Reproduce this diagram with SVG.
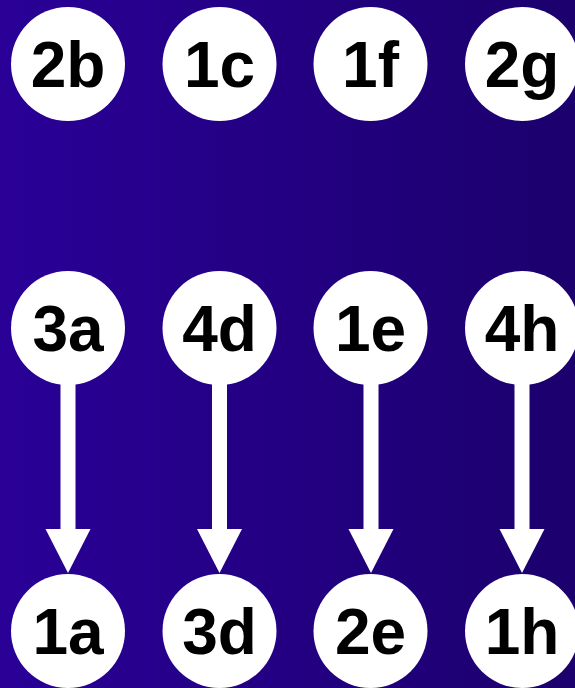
<svg xmlns="http://www.w3.org/2000/svg" width="575" height="688" viewBox="0 0 575 688">
  <defs>
    <linearGradient id="bg" x1="0" y1="0" x2="1" y2="0">
      <stop offset="0" stop-color="#2a0097"/>
      <stop offset="1" stop-color="#1c006d"/>
    </linearGradient>
    <marker id="ah" markerUnits="userSpaceOnUse" markerWidth="46" markerHeight="46" refX="0" refY="22.5" orient="auto" viewBox="0 0 46 46">
      <path d="M0,0 L44,22.5 L0,45 Z" fill="#ffffff"/>
    </marker>
    <style>
      .n circle { fill: #ffffff; }
      .n text { font-family: "Liberation Sans", Arial, sans-serif; font-weight: bold; font-size: 64px; fill: #000000; text-anchor: middle; }
      .c line { stroke: #ffffff; stroke-width: 15; marker-end: url(#ah); }
    </style>
  </defs>
  <rect x="0" y="0" width="575" height="688" fill="url(#bg)"/>
  <g id="connectors" class="c">
    <line x1="68" y1="384" x2="68" y2="529"/>
    <line x1="219.5" y1="384" x2="219.5" y2="529"/>
    <line x1="371" y1="384" x2="371" y2="529"/>
    <line x1="522" y1="384" x2="522" y2="529"/>
  </g>
  <g id="n2b" class="n"><circle cx="68" cy="64" r="57"/><text x="68" y="87">2b</text></g>
  <g id="n1c" class="n"><circle cx="219.5" cy="64" r="57"/><text x="219.5" y="87">1c</text></g>
  <g id="n1f" class="n"><circle cx="370.5" cy="64" r="57"/><text x="370.5" y="87">1f</text></g>
  <g id="n2g" class="n"><circle cx="522" cy="64" r="57"/><text x="522" y="87">2g</text></g>
  <g id="n3a" class="n"><circle cx="68" cy="328" r="57"/><text x="68" y="351">3a</text></g>
  <g id="n4d" class="n"><circle cx="219.5" cy="328" r="57"/><text x="219.5" y="351">4d</text></g>
  <g id="n1e" class="n"><circle cx="370.5" cy="328" r="57"/><text x="370.5" y="351">1e</text></g>
  <g id="n4h" class="n"><circle cx="522" cy="328" r="57"/><text x="522" y="351">4h</text></g>
  <g id="n1a" class="n"><circle cx="68" cy="631" r="57"/><text x="68" y="654">1a</text></g>
  <g id="n3d" class="n"><circle cx="219.5" cy="631" r="57"/><text x="219.5" y="654">3d</text></g>
  <g id="n2e" class="n"><circle cx="370.5" cy="631" r="57"/><text x="370.5" y="654">2e</text></g>
  <g id="n1h" class="n"><circle cx="522" cy="631" r="57"/><text x="522" y="654">1h</text></g>
</svg>
